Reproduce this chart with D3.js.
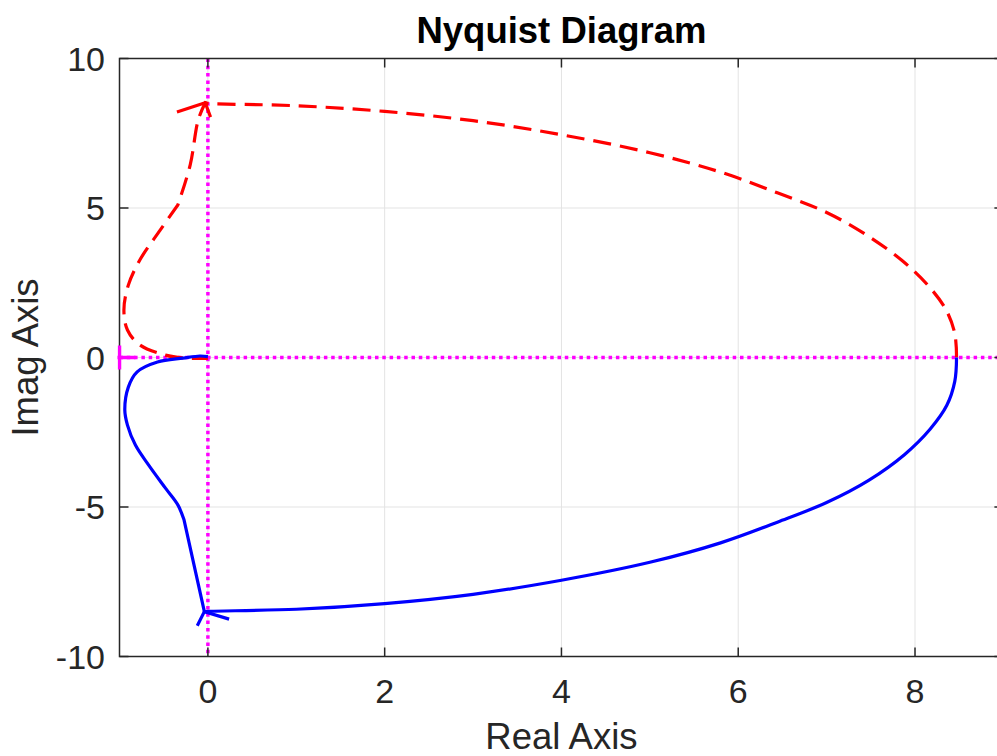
<!DOCTYPE html>
<html>
<head>
<meta charset="utf-8">
<script src="https://cdn.jsdelivr.net/npm/d3@7"></script>
<style>
  html, body { margin: 0; padding: 0; background: #fff; overflow: hidden; }
  svg { display: block; }
  text { font-family: "Liberation Sans", Arial, Helvetica, sans-serif; }
</style>
</head>
<body>
<svg id="chart" width="997" height="756"></svg>
<script>
// Axis ticks
const xTicks = [0, 2, 4, 6, 8];
const yTicks = [-10, -5, 0, 5, 10];

// Positive-frequency branch (solid blue)
const posRe = [8.47, 8.45, 8.36, 8.17, 7.88, 7.48, 7.0, 6.45, 5.8, 5.0, 4.0, 3.0, 2.0, 1.0, 0.0,
               -0.04, -0.27, -0.34, -0.48, -0.67, -0.82, -0.91, -0.94, -0.90, -0.80, -0.57, -0.28, -0.09, 0.0];
const posIm = [0, -0.8, -1.6, -2.4, -3.25, -4.1, -4.85, -5.5, -6.2, -6.85, -7.45, -7.92, -8.23, -8.42, -8.49,
               -8.5, -5.43, -4.93, -4.37, -3.6, -2.93, -2.26, -1.76, -0.99, -0.48, -0.15, -0.02, 0.05, 0.03];
// indices where the positive branch has sharp corners
const posCorners = [15, 16];

// Negative-frequency branch (dashed red)
const negRe = [8.47, 8.45, 8.35, 8.15, 7.85, 7.45, 7.0, 6.45, 5.8, 5.0, 4.0, 3.0, 2.0, 1.0, 0.0,
               -0.03, -0.11, -0.2, -0.34, -0.54, -0.77, -0.90, -0.95, -0.91, -0.77, -0.48, -0.26, 0.0];
const negIm = [0, 0.8, 1.6, 2.4, 3.25, 4.1, 4.85, 5.5, 6.2, 6.85, 7.45, 7.92, 8.23, 8.42, 8.5,
               8.52, 7.94, 6.44, 5.1, 4.26, 3.26, 2.42, 1.59, 0.92, 0.42, 0.08, -0.02, -0.03];
const negCorners = [15, 18];

// Direction arrows: [leg end, tip, leg end]
const posArrowRe = [-0.12, -0.04, 0.24];
const posArrowIm = [-8.97, -8.5, -8.75];
const negArrowRe = [-0.35, -0.03, 0.03];
const negArrowIm = [8.21, 8.52, 8.04];

// Critical point
const critRe = [-1];
const critIm = [0];

const xDomain = [-1, 9];
const yDomain = [-10, 10];

const svg = d3.select("#chart");
const L = 119.5, R = 1003.4, T = 58.5, B = 656.5;

const x = d3.scaleLinear().domain(xDomain).range([L, R]);
const y = d3.scaleLinear().domain(yDomain).range([B, T]);

const axisColor = "#262626";
const gridColor = "#e3e3e3";
const fs = 34;
const fsLabel = 36.5;

const defs = svg.append("defs");
defs.append("clipPath").attr("id", "plotClip")
  .append("rect").attr("x", L).attr("y", T).attr("width", R - L).attr("height", B - T);
defs.append("clipPath").attr("id", "markClip")
  .append("rect").attr("x", L - 2).attr("y", T).attr("width", R - L + 2).attr("height", B - T);

// Grid
const grid = svg.append("g");
grid.selectAll("line.gx").data(xTicks).join("line")
  .attr("x1", d => x(d)).attr("x2", d => x(d)).attr("y1", T).attr("y2", B)
  .attr("stroke", gridColor).attr("stroke-width", 1);
grid.selectAll("line.gy").data(yTicks).join("line")
  .attr("y1", d => y(d)).attr("y2", d => y(d)).attr("x1", L).attr("x2", R)
  .attr("stroke", gridColor).attr("stroke-width", 1);

const plot = svg.append("g").attr("clip-path", "url(#plotClip)");

const pts = (re, im) => re.map((r, i) => [r, im[i]]);
const straight = d3.line().x(d => x(d[0])).y(d => y(d[1]));
const smooth = d3.line().x(d => x(d[0])).y(d => y(d[1])).curve(d3.curveCatmullRom.alpha(0.5));

// Build a single path: smooth pieces joined at the corner indices
function branchPath(re, im, corners) {
  const p = pts(re, im);
  const cuts = [0, ...corners, p.length - 1];
  let d = "";
  for (let k = 0; k < cuts.length - 1; k++) {
    const seg = p.slice(cuts[k], cuts[k + 1] + 1);
    let s = seg.length > 2 ? smooth(seg) : straight(seg);
    if (k > 0) s = s.replace(/^M[^A-Za-z]*/, "");
    d += s;
  }
  return d;
}

// Reference lines through origin
plot.append("line").attr("x1", x(0)).attr("x2", x(0)).attr("y1", T).attr("y2", B)
  .attr("stroke", "#ff00ff").attr("stroke-width", 3.5).attr("stroke-dasharray", "3.5,3.8");
plot.append("line").attr("x1", L).attr("x2", R).attr("y1", y(0)).attr("y2", y(0))
  .attr("stroke", "#ff00ff").attr("stroke-width", 3.5).attr("stroke-dasharray", "3.5,3.8");

// Negative-frequency curve
plot.append("path").attr("d", branchPath(negRe, negIm, negCorners))
  .attr("fill", "none").attr("stroke", "#ff0000").attr("stroke-width", 3.2)
  .attr("stroke-dasharray", "18,9");
plot.append("path").datum(pts(negArrowRe, negArrowIm)).attr("d", straight)
  .attr("fill", "none").attr("stroke", "#ff0000").attr("stroke-width", 3.2);

// Positive-frequency curve
plot.append("path").attr("d", branchPath(posRe, posIm, posCorners))
  .attr("fill", "none").attr("stroke", "#0000ff").attr("stroke-width", 3.2)
  .attr("stroke-linejoin", "round");
plot.append("path").datum(pts(posArrowRe, posArrowIm)).attr("d", straight)
  .attr("fill", "none").attr("stroke", "#0000ff").attr("stroke-width", 3.2);

// Axes frame
const frame = svg.append("g");
frame.append("rect").attr("x", L).attr("y", T).attr("width", R - L).attr("height", B - T)
  .attr("fill", "none").attr("stroke", axisColor).attr("stroke-width", 1.5);

// Inward ticks on all four sides
const tl = 9;
frame.selectAll("line.xtb").data(xTicks).join("line")
  .attr("x1", d => x(d)).attr("x2", d => x(d)).attr("y1", B).attr("y2", B - tl)
  .attr("stroke", axisColor).attr("stroke-width", 1.5);
frame.selectAll("line.xtt").data(xTicks).join("line")
  .attr("x1", d => x(d)).attr("x2", d => x(d)).attr("y1", T).attr("y2", T + tl)
  .attr("stroke", axisColor).attr("stroke-width", 1.5);
frame.selectAll("line.ytl").data(yTicks).join("line")
  .attr("y1", d => y(d)).attr("y2", d => y(d)).attr("x1", L).attr("x2", L + tl)
  .attr("stroke", axisColor).attr("stroke-width", 1.5);
frame.selectAll("line.ytr").data(yTicks).join("line")
  .attr("y1", d => y(d)).attr("y2", d => y(d)).attr("x1", R).attr("x2", R - tl)
  .attr("stroke", axisColor).attr("stroke-width", 1.5);

// Critical point marker (+), drawn over the frame
const crit = svg.append("g").attr("clip-path", "url(#markClip)")
  .selectAll("g.crit").data(pts(critRe, critIm)).join("g")
  .attr("transform", d => `translate(${x(d[0])},${y(d[1])})`);
crit.append("line").attr("x1", -12).attr("x2", 16).attr("y1", 0).attr("y2", 0)
  .attr("stroke", "#ff00ff").attr("stroke-width", 3.5);
crit.append("line").attr("x1", 0).attr("x2", 0).attr("y1", -12).attr("y2", 12)
  .attr("stroke", "#ff00ff").attr("stroke-width", 3.5);

// Tick labels
svg.append("g").selectAll("text").data(xTicks).join("text")
  .attr("x", d => x(d)).attr("y", 703)
  .attr("text-anchor", "middle").attr("font-size", fs).attr("fill", axisColor)
  .text(d => d);
svg.append("g").selectAll("text").data(yTicks).join("text")
  .attr("x", 105).attr("y", d => y(d)).attr("dy", "0.36em")
  .attr("text-anchor", "end").attr("font-size", fs).attr("fill", axisColor)
  .text(d => d);

// Axis labels and title
svg.append("text").attr("x", (L + R) / 2).attr("y", 749)
  .attr("text-anchor", "middle").attr("font-size", fsLabel).attr("fill", axisColor)
  .text("Real Axis");
svg.append("text").attr("transform", `translate(38,${(T + B) / 2}) rotate(-90)`)
  .attr("text-anchor", "middle").attr("font-size", fsLabel).attr("fill", axisColor)
  .text("Imag Axis");
svg.append("text").attr("x", (L + R) / 2).attr("y", 43)
  .attr("text-anchor", "middle").attr("font-size", fsLabel).attr("font-weight", "bold").attr("fill", "#000")
  .text("Nyquist Diagram");
</script>
</body>
</html>
